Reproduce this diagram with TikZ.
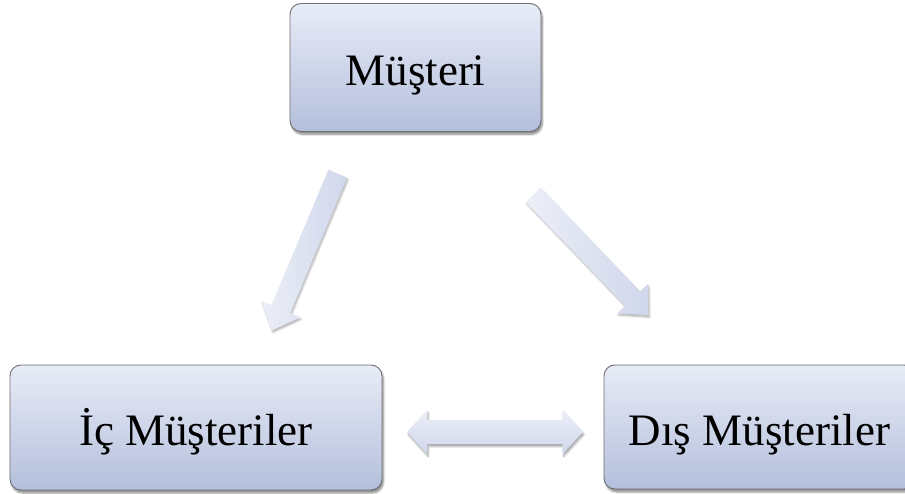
\documentclass[tikz,border=0pt]{standalone}
\usepackage{fontspec}
\setmainfont{Liberation Serif}
\usetikzlibrary{shapes.arrows,shadows.blur}

\definecolor{boxtop}{RGB}{232,236,247}
\definecolor{boxbot}{RGB}{180,191,220}
\definecolor{boxline}{RGB}{110,110,115}
\definecolor{arrtail}{RGB}{236,239,248}
\definecolor{arrtip}{RGB}{208,215,235}

\tikzset{
  card/.style={draw=boxline, line width=0.9pt, rounded corners=11pt,
    top color=boxtop, bottom color=boxbot, inner sep=0pt,
    font=\fontsize{45}{48}\selectfont, text height=36pt, text depth=0pt,
    blur shadow={shadow xshift=1.5pt, shadow yshift=-3pt, shadow opacity=45, shadow blur steps=6}},
  blockarrow/.style={single arrow, draw=none, inner xsep=0pt, inner ysep=10pt,
    single arrow head extend=11pt, single arrow tip angle=85,
    left color=arrtail, right color=arrtip,
    blur shadow={shadow xshift=1pt, shadow yshift=-2pt, shadow opacity=30, shadow blur steps=5}},
  twowayarrow/.style={double arrow, draw=none, inner xsep=0pt, inner ysep=12pt,
    double arrow head extend=10pt, double arrow tip angle=95,
    top color=arrtail, bottom color=arrtip,
    blur shadow={shadow xshift=1pt, shadow yshift=-2.5pt, shadow opacity=35, shadow blur steps=5}}
}

\begin{document}
\begin{tikzpicture}[x=1pt,y=1pt]
  \useasboundingbox (0,0) rectangle (905,493);
  \clip (0,0) rectangle (905,493);

  % the three boxes
  \node[card, minimum width=251pt, minimum height=128pt] (must) at (415.5,425.5) {Müşteri};
  \node[card, minimum width=372pt, minimum height=125pt] (ic) at (196,65.5) {İç Müşteriler};
  \node[card, minimum width=311pt, minimum height=124pt] (dis) at (759.5,66) {Dış Müşteriler};

  % block arrows between them
  \node[blockarrow, minimum height=170pt, rotate=247.2] (toic) at (307,246) {};
  \node[blockarrow, minimum height=167pt, rotate=-46.2] (todis) at (587,242) {};
  \node[twowayarrow, minimum height=176pt] (between) at (495,61) {};
\end{tikzpicture}
\end{document}
